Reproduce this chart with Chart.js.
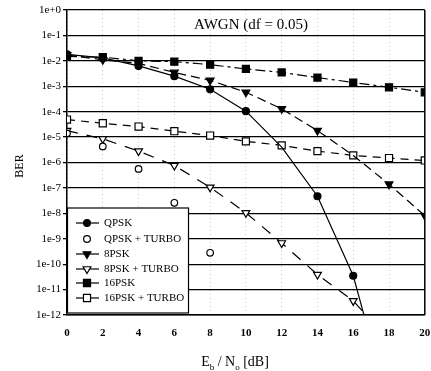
<!DOCTYPE html>
<html>
<head>
<meta charset="utf-8">
<script src="https://cdn.jsdelivr.net/npm/chart.js@4.4.1/dist/chart.umd.min.js"></script>
<style>
  html, body { margin: 0; padding: 0; background: #fff; }
  #wrap { width: 431px; height: 371px; }
</style>
</head>
<body>
<div id="wrap"><canvas id="berChart" width="431" height="371"></canvas></div>
<script>
// Eb/No in dB
const ebno = [0, 2, 4, 6, 8, 10, 12, 14, 16, 18, 20];

// BER values (null = not plotted)
const qpsk      = [1.8e-2, 1.3e-2, 6.3e-3, 2.5e-3, 7.6e-4, 1.05e-4, 4.0e-6, 4.7e-8, 3.5e-11, 2.5e-16, null];
const qpskTurbo = [1.4e-5, 4.3e-6, 5.6e-7, 2.6e-8, 2.8e-10, null, null, null, null, null, null];
const psk8      = [1.7e-2, 1.1e-2, 7.9e-3, 3.5e-3, 1.7e-3, 5.8e-4, 1.3e-4, 1.8e-5, 1.9e-6, 1.4e-7, 8.1e-9];
const psk8Turbo = [1.8e-5, 8.5e-6, 2.8e-6, 7.6e-7, 1.05e-7, 1.05e-8, 6.8e-10, 3.9e-11, 3.6e-12, 1e-13, null];
const psk16     = [1.5e-2, 1.4e-2, 1.0e-2, 9.3e-3, 7.1e-3, 4.8e-3, 3.5e-3, 2.2e-3, 1.4e-3, 9.1e-4, 5.8e-4];
const psk16Turbo= [4.9e-5, 3.5e-5, 2.6e-5, 1.7e-5, 1.15e-5, 6.8e-6, 4.7e-6, 2.8e-6, 1.9e-6, 1.5e-6, 1.2e-6];

const yDecades = [0, -1, -2, -3, -4, -5, -6, -7, -8, -9, -10, -11, -12];
const titleText = 'AWGN (df = 0.05)';

const SERIF = '"Liberation Serif", "DejaVu Serif", serif';

function pts(arr) {
  return ebno.map((x, i) => ({ x: x, y: arr[i] }));
}

// markers hidden where another symbol sits on top in the original
function radii(n, r, hidden) {
  return ebno.map((x, i) => (hidden.indexOf(i) >= 0 ? 0 : r));
}

const series = [
  { label: 'QPSK', data: pts(qpsk), borderDash: [], pointStyle: 'circle', pointRadius: radii(11, 3.5, [6]),
    fill: '#000', showLine: true, rotation: 0 },
  { label: 'QPSK + TURBO', data: pts(qpskTurbo), borderDash: [], pointStyle: 'circle', pointRadius: 3.3,
    fill: '#fff', showLine: false, rotation: 0 },
  { label: '8PSK', data: pts(psk8), borderDash: [9, 5], pointStyle: 'triangle', pointRadius: radii(11, 4.5, [8]),
    fill: '#000', showLine: true, rotation: 180 },
  { label: '8PSK + TURBO', data: pts(psk8Turbo), borderDash: [11, 9], pointStyle: 'triangle', pointRadius: 4.5,
    fill: '#fff', showLine: true, rotation: 180 },
  { label: '16PSK', data: pts(psk16), borderDash: [10, 4, 3, 4], pointStyle: 'rect', pointRadius: 5,
    fill: '#000', showLine: true, rotation: 0 },
  { label: '16PSK + TURBO', data: pts(psk16Turbo), borderDash: [8, 6], pointStyle: 'rect', pointRadius: 5,
    fill: '#fff', showLine: true, rotation: 0 }
];

const datasets = series.map(s => ({
  label: s.label,
  data: s.data,
  showLine: s.showLine,
  borderColor: '#000',
  borderWidth: 1.2,
  borderDash: s.borderDash,
  pointStyle: s.pointStyle,
  pointRadius: s.pointRadius,
  pointRotation: s.rotation,
  pointBackgroundColor: s.fill,
  pointBorderColor: '#000',
  pointBorderWidth: 1.2,
  fill: false,
  tension: 0,
  spanGaps: false
}));

function drawMarker(ctx, style, x, y, r, fillColor, rotation) {
  ctx.save();
  ctx.fillStyle = fillColor;
  ctx.strokeStyle = '#000';
  ctx.lineWidth = 1.2;
  ctx.setLineDash([]);
  ctx.beginPath();
  if (style === 'circle') {
    ctx.arc(x, y, r, 0, Math.PI * 2);
  } else if (style === 'rect') {
    const s = r * Math.SQRT1_2;
    ctx.rect(x - s, y - s, 2 * s, 2 * s);
  } else if (style === 'triangle') {
    const d = rotation === 180 ? -1 : 1;
    ctx.moveTo(x, y - d * r);
    ctx.lineTo(x + r * 0.866, y + d * r * 0.5);
    ctx.lineTo(x - r * 0.866, y + d * r * 0.5);
    ctx.closePath();
  }
  ctx.fill();
  ctx.stroke();
  ctx.restore();
}

const decorations = {
  id: 'decorations',
  afterDraw(chart) {
    const ctx = chart.ctx;
    const a = chart.chartArea;
    ctx.save();

    // right frame
    ctx.strokeStyle = '#000';
    ctx.lineWidth = 1.5;
    ctx.beginPath();
    ctx.moveTo(a.right, a.top);
    ctx.lineTo(a.right, a.bottom);
    ctx.stroke();

    // title inside the plot
    ctx.fillStyle = '#000';
    ctx.font = '15px ' + SERIF;
    ctx.textAlign = 'center';
    ctx.textBaseline = 'middle';
    ctx.fillText(titleText, 251, 25);

    // y axis title
    ctx.save();
    ctx.translate(20, 166);
    ctx.rotate(-Math.PI / 2);
    ctx.font = '12px ' + SERIF;
    ctx.fillText('BER', 0, 0);
    ctx.restore();

    // x axis title with subscripts: Eb / No [dB]
    const big = '14px ' + SERIF, small = '9px ' + SERIF;
    const parts = [['E', big, 0], ['b', small, 4], [' / N', big, 0], ['o', small, 4], [' [dB]', big, 0]];
    let w = 0;
    parts.forEach(p => { ctx.font = p[1]; w += ctx.measureText(p[0]).width; });
    let x = 235 - w / 2;
    ctx.textAlign = 'left';
    ctx.textBaseline = 'alphabetic';
    parts.forEach(p => {
      ctx.font = p[1];
      ctx.fillText(p[0], x, 366 + p[2]);
      x += ctx.measureText(p[0]).width;
    });

    // legend box
    const lx = a.left, ly = 208, lw = 121, lh = 106;
    ctx.fillStyle = '#fff';
    ctx.fillRect(lx, ly, lw, lh);
    ctx.strokeStyle = '#000';
    ctx.lineWidth = 1.2;
    ctx.strokeRect(lx + 0.5, ly, lw, lh - 1);

    const rowY = [223, 239, 254, 269, 283, 298];
    series.forEach((s, i) => {
      const y = rowY[i];
      if (s.showLine) {
        ctx.save();
        ctx.strokeStyle = '#000';
        ctx.lineWidth = 1.2;
        ctx.setLineDash([]);
        ctx.beginPath();
        ctx.moveTo(76, y);
        ctx.lineTo(99, y);
        ctx.stroke();
        ctx.restore();
      }
      const r = s.pointStyle === 'rect' ? 5 : (s.pointStyle === 'triangle' ? 4.5 : 3.4);
      drawMarker(ctx, s.pointStyle, 87, y, r, s.fill, s.rotation);
      ctx.fillStyle = '#000';
      ctx.font = '11px ' + SERIF;
      ctx.textAlign = 'left';
      ctx.textBaseline = 'middle';
      ctx.fillText(s.label, 104, y + 0.5);
    });

    ctx.restore();
  }
};

new Chart(document.getElementById('berChart'), {
  type: 'scatter',
  data: { datasets: datasets },
  options: {
    responsive: false,
    animation: false,
    devicePixelRatio: 1,
    layout: { padding: { top: 10, right: 3, left: 0, bottom: 0 } },
    plugins: {
      legend: { display: false },
      tooltip: { enabled: false },
      title: { display: false }
    },
    scales: {
      x: {
        type: 'linear',
        min: 0,
        max: 20,
        ticks: {
          stepSize: 2,
          padding: 12,
          color: '#000',
          font: { family: SERIF, size: 11, weight: 'bold' }
        },
        grid: { color: 'rgba(0,0,0,0.22)', lineWidth: 1, drawTicks: false },
        border: { display: true, color: '#000', width: 1.5, dash: [1, 3] },
        afterFit(scale) {
          scale.height = 56;
          scale.paddingLeft = 0;
          scale.paddingRight = 0;
        }
      },
      y: {
        type: 'logarithmic',
        min: 1e-12,
        max: 1,
        afterBuildTicks(scale) {
          scale.ticks = yDecades.map(e => ({ value: Math.pow(10, e) }));
        },
        ticks: {
          padding: 2,
          color: '#000',
          font: { family: SERIF, size: 11 },
          callback(v) {
            const e = Math.round(Math.log10(v));
            return '1e' + (e >= 0 ? '+' + e : String(e));
          }
        },
        grid: { color: '#000', lineWidth: 1.3, tickLength: 4, tickColor: '#000' },
        border: { display: true, color: '#000', width: 1.5 },
        afterFit(scale) {
          scale.width = 67;
          scale.paddingTop = 0;
          scale.paddingBottom = 0;
        }
      }
    }
  },
  plugins: [decorations]
});
</script>
</body>
</html>
